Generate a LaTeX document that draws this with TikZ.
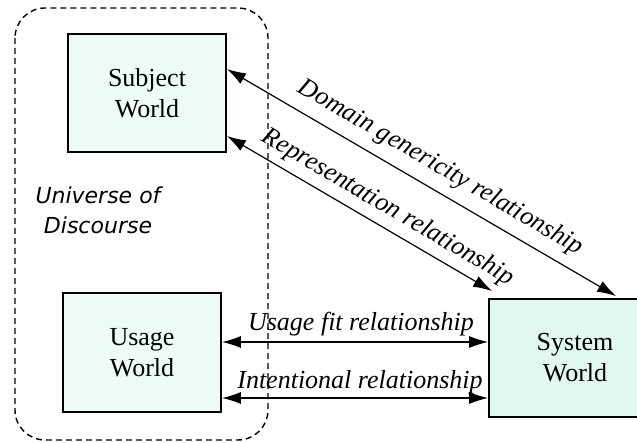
\documentclass[tikz,border=0pt]{standalone}
\usepackage{fontspec}
\setmainfont{Liberation Serif}
\newfontfamily\comicfont{DejaVu Sans}
\usetikzlibrary{arrows.meta,calc}
\definecolor{boxfill}{RGB}{237,250,247}
\definecolor{sysfill}{RGB}{225,247,242}
\tikzset{
  worldbox/.style={draw=black, line width=1.8pt, inner sep=0pt, align=center,
    font=\fontsize{26}{31}\selectfont},
  rel/.style={line width=1.2pt, {Latex[length=19pt,width=12pt]}-{Latex[length=19pt,width=12pt]}},
  rellabel/.style={font=\fontsize{26}{31}\selectfont\itshape, inner sep=0pt},
}
\begin{document}
\begin{tikzpicture}[x=1pt,y=-1pt]
\useasboundingbox (0,0) rectangle (637,443);
% universe of discourse
\draw[line width=1.4pt, dash pattern=on 6pt off 4pt, rounded corners=30pt] (15,8) rectangle (268,440);
\node[font=\comicfont\itshape\fontsize{22}{30}\selectfont, align=center] (uod) at (98,210) {Universe of\\Discourse};
% boxes
\node[worldbox, fill=boxfill, minimum width=158pt, minimum height=118pt] (subj) at (147,93) {Subject\\World};
\node[worldbox, fill=boxfill, minimum width=158pt, minimum height=119pt] (usage) at (142,352.5) {Usage\\World};
\node[worldbox, fill=sysfill, minimum width=172pt, minimum height=118pt] (sys) at (575,358) {System\\World};
% named end points
\coordinate (dA) at ($(subj.east)+(0,-24)$);
\coordinate (rA) at ($(subj.east)+(0,43)$);
\coordinate (dB) at ($(sys.north west)+(128,-2)$);
\coordinate (rB) at ($(sys.north west)+(4,-7)$);
\coordinate (uA) at ($(usage.east)+(0,-10.5)$);
\coordinate (iA) at ($(usage.east)+(0,45.5)$);
% connectors
\draw[rel] (dA) -- (dB) node[rellabel, pos=0.52, sloped, above=10pt] {Domain genericity relationship};
\draw[rel] (rA) -- (rB) node[rellabel, pos=0.57, sloped, above=7pt] {Representation relationship};
\draw[rel] (uA) -- (uA -| sys.west) node[rellabel, midway, above=5pt, xshift=6pt] {Usage fit relationship};
\draw[rel] (iA) -- (iA -| sys.west) node[rellabel, midway, above=3pt, xshift=5pt] {Intentional relationship};
\end{tikzpicture}
\end{document}
